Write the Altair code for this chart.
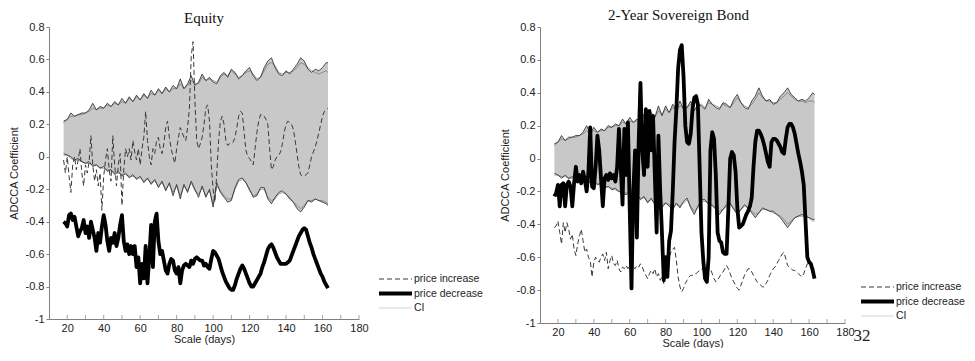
import altair as alt
import pandas as pd

days = list(range(18, 164))
ci_days = list(range(18, 163, 2)) + [163]
x_ticks = list(range(20, 181, 10))
y_ticks = [-1, -0.8, -0.6, -0.4, -0.2, 0, 0.2, 0.4, 0.6, 0.8]
series_names = ["price increase", "price decrease", "CI"]

# ---------------- Equity ----------------
eq_inc = [
    -0.02, -0.10,
    0.00, -0.12, -0.22, -0.05, 0.00, -0.08, -0.02, 0.05, -0.10, -0.18,
    -0.05, -0.10, -0.03, 0.13, -0.05, -0.15, -0.08, -0.18, -0.10, -0.33,
    -0.12, -0.02, 0.05, -0.08, -0.15, 0.13, -0.05, -0.18, -0.05, 0.02,
    -0.30, -0.08, 0.05, 0.00, 0.05, -0.02, 0.10, 0.03, -0.02, 0.05,
    -0.05, 0.05, 0.12, 0.28, 0.10, 0.00, -0.05, 0.05, 0.02, 0.10,
    0.12, 0.05, 0.02, 0.08, 0.18, 0.22, 0.12, 0.05, 0.00, -0.04,
    0.05, 0.12, 0.18, 0.15, 0.12, 0.10, 0.18, 0.30, 0.62, 0.71,
    0.35, 0.10, 0.05, 0.08, 0.12, 0.20, 0.30, 0.32, 0.22, -0.05,
    -0.20, -0.28, -0.10, 0.10, 0.22, 0.25, 0.20, 0.10, 0.07, 0.08,
    0.08, 0.09, 0.12, 0.18, 0.25, 0.28, 0.27, 0.15, 0.04, 0.00,
    -0.01, -0.03, -0.05, 0.05, 0.15, 0.22, 0.26, 0.26, 0.25, 0.23,
    0.20, 0.05, -0.08, -0.06, -0.02, 0.00, 0.01, 0.03, 0.08, 0.15,
    0.20, 0.22, 0.21, 0.20, 0.17, 0.10, 0.02, -0.06, -0.11, -0.12,
    -0.12, -0.11, -0.10, -0.05, 0.00, 0.03, 0.06, 0.10, 0.15, 0.20,
    0.25, 0.28, 0.29, 0.30,
]
eq_dec = [
    -0.40, -0.41,
    -0.43, -0.36, -0.35, -0.39, -0.37, -0.43, -0.49, -0.46, -0.44, -0.39,
    -0.47, -0.43, -0.50, -0.40, -0.45, -0.50, -0.58, -0.47, -0.53, -0.43,
    -0.36, -0.42, -0.52, -0.58, -0.50, -0.53, -0.47, -0.55, -0.50, -0.42,
    -0.36, -0.52, -0.58, -0.54, -0.60, -0.55, -0.60, -0.55, -0.68, -0.62,
    -0.78, -0.66, -0.75, -0.55, -0.78, -0.62, -0.42, -0.68, -0.40, -0.35,
    -0.52, -0.60, -0.58, -0.64, -0.70, -0.72, -0.66, -0.63, -0.64, -0.70,
    -0.72, -0.68, -0.78, -0.70, -0.67, -0.66, -0.67, -0.68, -0.64, -0.66,
    -0.63, -0.62, -0.63, -0.64, -0.64, -0.67, -0.66, -0.68, -0.69, -0.63,
    -0.58, -0.59, -0.61, -0.63, -0.67, -0.71, -0.74, -0.77, -0.79, -0.81,
    -0.82, -0.82, -0.79, -0.75, -0.72, -0.69, -0.67, -0.69, -0.72, -0.75,
    -0.78, -0.80, -0.80, -0.78, -0.76, -0.74, -0.72, -0.68, -0.65, -0.61,
    -0.57, -0.55, -0.54, -0.56, -0.59, -0.62, -0.64, -0.66, -0.66, -0.66,
    -0.66, -0.65, -0.64, -0.61, -0.58, -0.55, -0.52, -0.49, -0.47, -0.45,
    -0.44, -0.45, -0.49, -0.53, -0.56, -0.60, -0.63, -0.66, -0.69, -0.72,
    -0.74, -0.77, -0.79, -0.81,
]
eq_upA = [
    0.22, 0.23, 0.27, 0.25, 0.26, 0.27, 0.27, 0.29, 0.33, 0.29,
    0.31, 0.30, 0.33, 0.31, 0.34, 0.32, 0.36, 0.33, 0.37, 0.34,
    0.38, 0.35, 0.39, 0.36, 0.41, 0.38, 0.42, 0.39, 0.43, 0.40,
    0.44, 0.42, 0.48, 0.42, 0.45, 0.50, 0.44, 0.46, 0.51, 0.47,
    0.49, 0.46, 0.45, 0.50, 0.52, 0.49, 0.54, 0.52, 0.48, 0.50,
    0.53, 0.55, 0.50, 0.47, 0.49, 0.55, 0.59, 0.61, 0.55, 0.51,
    0.50, 0.53, 0.51, 0.54, 0.57, 0.61, 0.59, 0.54, 0.52, 0.54,
    0.53, 0.55, 0.58, 0.58,
]
eq_upB = [
    0.21, 0.23, 0.25, 0.25, 0.26, 0.26, 0.27, 0.28, 0.30, 0.29,
    0.30, 0.30, 0.32, 0.31, 0.33, 0.32, 0.34, 0.33, 0.36, 0.34,
    0.37, 0.35, 0.38, 0.36, 0.39, 0.38, 0.41, 0.39, 0.42, 0.40,
    0.42, 0.42, 0.45, 0.42, 0.44, 0.47, 0.45, 0.45, 0.49, 0.47,
    0.48, 0.47, 0.46, 0.49, 0.51, 0.50, 0.53, 0.51, 0.49, 0.50,
    0.52, 0.53, 0.51, 0.48, 0.49, 0.53, 0.57, 0.58, 0.56, 0.52,
    0.51, 0.52, 0.52, 0.53, 0.55, 0.58, 0.57, 0.55, 0.53, 0.52,
    0.51, 0.52, 0.53, 0.52,
]
eq_loA = [
    0.02, 0.01, 0.00, -0.02, -0.01, -0.03, -0.04, -0.03, -0.06, -0.05,
    -0.07, -0.06, -0.09, -0.08, -0.11, -0.09, -0.12, -0.10, -0.13, -0.11,
    -0.14, -0.12, -0.16, -0.13, -0.17, -0.14, -0.19, -0.15, -0.21, -0.16,
    -0.24, -0.17, -0.26, -0.17, -0.22, -0.15, -0.20, -0.25, -0.18, -0.25,
    -0.20, -0.31, -0.16, -0.22, -0.25, -0.28, -0.27, -0.19, -0.14, -0.13,
    -0.16, -0.20, -0.25, -0.24, -0.19, -0.19, -0.26, -0.29, -0.25, -0.22,
    -0.21, -0.23, -0.26, -0.28, -0.32, -0.34, -0.31, -0.27, -0.28, -0.26,
    -0.27, -0.28, -0.29, -0.30,
]
eq_loB = [
    0.01, 0.01, -0.01, -0.02, -0.02, -0.03, -0.04, -0.04, -0.05, -0.05,
    -0.07, -0.07, -0.08, -0.08, -0.10, -0.10, -0.11, -0.11, -0.12, -0.12,
    -0.13, -0.13, -0.15, -0.14, -0.16, -0.15, -0.18, -0.16, -0.20, -0.17,
    -0.22, -0.18, -0.24, -0.18, -0.21, -0.16, -0.21, -0.23, -0.19, -0.24,
    -0.21, -0.29, -0.18, -0.21, -0.24, -0.26, -0.26, -0.20, -0.15, -0.14,
    -0.16, -0.21, -0.24, -0.23, -0.20, -0.20, -0.25, -0.27, -0.26, -0.23,
    -0.22, -0.23, -0.25, -0.28, -0.30, -0.32, -0.30, -0.27, -0.27, -0.26,
    -0.27, -0.27, -0.28, -0.29,
]

# ---------------- 2-Year Sovereign Bond ----------------
bd_inc = [
    -0.42, -0.41,
    -0.38, -0.45, -0.52, -0.39, -0.45, -0.39, -0.43, -0.49, -0.46, -0.55,
    -0.59, -0.52, -0.47, -0.43, -0.50, -0.57, -0.55, -0.60, -0.62, -0.72,
    -0.63, -0.60, -0.62, -0.63, -0.60, -0.58, -0.62, -0.57, -0.67, -0.62,
    -0.59, -0.64, -0.65, -0.62, -0.67, -0.69, -0.66, -0.67, -0.65, -0.67,
    -0.65, -0.68, -0.66, -0.67, -0.65, -0.66, -0.64, -0.66, -0.69, -0.71,
    -0.73, -0.70, -0.68, -0.70, -0.67, -0.72, -0.70, -0.74, -0.72, -0.76,
    -0.70, -0.66, -0.60, -0.57, -0.55, -0.54, -0.62, -0.72, -0.78, -0.81,
    -0.79, -0.76, -0.74, -0.72, -0.71, -0.71, -0.70, -0.70, -0.69, -0.68,
    -0.68, -0.66, -0.64, -0.65, -0.66, -0.67, -0.70, -0.73, -0.75, -0.74,
    -0.72, -0.70, -0.69, -0.67, -0.65, -0.67, -0.70, -0.73, -0.75, -0.77,
    -0.79, -0.80, -0.77, -0.74, -0.71, -0.69, -0.67, -0.67, -0.69, -0.71,
    -0.73, -0.75, -0.76, -0.77, -0.78, -0.78, -0.76, -0.74, -0.71, -0.69,
    -0.67, -0.66, -0.64, -0.62, -0.60, -0.58, -0.57, -0.61, -0.65, -0.66,
    -0.67, -0.68, -0.68, -0.69, -0.70, -0.71, -0.72, -0.70, -0.67, -0.64,
    -0.65, -0.66, -0.67, -0.67,
]
bd_dec = [
    -0.23, -0.21,
    -0.16, -0.29, -0.16, -0.15, -0.29, -0.16, -0.14, -0.17, -0.29, -0.15,
    -0.05, -0.14, -0.10, -0.15, -0.08, -0.13, -0.20, -0.08, 0.19, -0.17,
    -0.18, -0.05, 0.14, 0.05, -0.12, -0.29, -0.12, -0.10, -0.13, -0.09,
    -0.12, -0.10, -0.14, -0.05, 0.18, -0.05, -0.28, 0.18, -0.10, 0.22,
    -0.30, -0.79, -0.20, 0.05, -0.48, 0.10, 0.46, 0.05, -0.10, 0.30,
    -0.05, 0.29, 0.05, 0.26, -0.10, -0.45, 0.14, -0.20, -0.46, -0.74,
    -0.60, -0.72, -0.50, -0.44, -0.20, 0.10, 0.30, 0.55, 0.66, 0.69,
    0.50, 0.20, 0.10, 0.09, 0.15, 0.30, 0.37, 0.38, 0.33, -0.06,
    -0.45, -0.62, -0.73, -0.75, -0.60, 0.05, 0.16, 0.12, -0.10, -0.45,
    -0.50, -0.51, -0.57, -0.58, -0.58, -0.30, 0.00, 0.04, 0.02, -0.08,
    -0.30, -0.42, -0.41, -0.40, -0.37, -0.34, -0.32, -0.29, -0.24, -0.05,
    0.10, 0.17, 0.17, 0.15, 0.12, 0.08, 0.03, -0.02, -0.05, 0.10,
    0.12, 0.12, 0.11, 0.09, 0.07, 0.04, 0.03, 0.12, 0.19, 0.21,
    0.21, 0.19, 0.15, 0.09, 0.03, -0.02, -0.08, -0.16, -0.38, -0.60,
    -0.63, -0.64, -0.68, -0.73,
]
bd_upA = [
    0.09, 0.10, 0.14, 0.11, 0.13, 0.13, 0.14, 0.14, 0.16, 0.20,
    0.15, 0.19, 0.16, 0.18, 0.17, 0.20, 0.19, 0.21, 0.20, 0.24,
    0.21, 0.25, 0.22, 0.24, 0.22, 0.27, 0.24, 0.28, 0.25, 0.32,
    0.26, 0.32, 0.28, 0.33, 0.29, 0.35, 0.30, 0.31, 0.35, 0.29,
    0.33, 0.32, 0.30, 0.36, 0.33, 0.31, 0.30, 0.34, 0.33, 0.31,
    0.36, 0.39, 0.34, 0.31, 0.30, 0.35, 0.38, 0.43, 0.38, 0.35,
    0.36, 0.33, 0.34, 0.38, 0.40, 0.43, 0.39, 0.37, 0.35, 0.36,
    0.35, 0.37, 0.40, 0.39,
]
bd_upB = [
    0.08, 0.10, 0.12, 0.11, 0.12, 0.13, 0.13, 0.14, 0.15, 0.17,
    0.15, 0.17, 0.16, 0.17, 0.17, 0.19, 0.19, 0.20, 0.20, 0.22,
    0.21, 0.23, 0.22, 0.23, 0.22, 0.25, 0.24, 0.26, 0.25, 0.29,
    0.27, 0.30, 0.28, 0.31, 0.29, 0.32, 0.31, 0.31, 0.33, 0.30,
    0.32, 0.33, 0.31, 0.34, 0.33, 0.32, 0.31, 0.33, 0.32, 0.31,
    0.34, 0.37, 0.34, 0.32, 0.31, 0.33, 0.36, 0.40, 0.37, 0.35,
    0.35, 0.34, 0.34, 0.36, 0.38, 0.40, 0.38, 0.36, 0.35, 0.35,
    0.34, 0.35, 0.35, 0.34,
]
bd_loA = [
    -0.09, -0.10, -0.12, -0.10, -0.12, -0.11, -0.12, -0.11, -0.14, -0.12,
    -0.15, -0.14, -0.16, -0.15, -0.18, -0.17, -0.19, -0.18, -0.20, -0.21,
    -0.22, -0.20, -0.24, -0.22, -0.25, -0.23, -0.27, -0.24, -0.28, -0.25,
    -0.30, -0.27, -0.29, -0.31, -0.27, -0.30, -0.26, -0.24, -0.30, -0.34,
    -0.29, -0.25, -0.25, -0.28, -0.28, -0.31, -0.34, -0.31, -0.28, -0.27,
    -0.31, -0.34, -0.31, -0.28, -0.30, -0.33, -0.36, -0.33, -0.30, -0.31,
    -0.32, -0.32, -0.34, -0.36, -0.39, -0.42, -0.39, -0.36, -0.35, -0.34,
    -0.35, -0.36, -0.37, -0.37,
]
bd_loB = [
    -0.10, -0.10, -0.11, -0.11, -0.12, -0.12, -0.12, -0.12, -0.13, -0.13,
    -0.14, -0.14, -0.15, -0.16, -0.17, -0.17, -0.18, -0.19, -0.20, -0.20,
    -0.21, -0.21, -0.23, -0.22, -0.24, -0.24, -0.26, -0.25, -0.27, -0.26,
    -0.28, -0.27, -0.28, -0.30, -0.28, -0.29, -0.27, -0.25, -0.29, -0.32,
    -0.30, -0.26, -0.26, -0.27, -0.29, -0.30, -0.32, -0.31, -0.29, -0.28,
    -0.30, -0.33, -0.31, -0.29, -0.30, -0.32, -0.34, -0.33, -0.31, -0.31,
    -0.32, -0.33, -0.34, -0.35, -0.37, -0.40, -0.38, -0.36, -0.35, -0.35,
    -0.35, -0.36, -0.38, -0.38,
]

FONT = "Liberation Sans, Arial, sans-serif"
SERIF = "Liberation Serif, Times New Roman, serif"


def panel(title, inc, dec, upA, upB, loA, loB, w, h, lx, ly, tdx, toff, page_no=None):
    assert len(inc) == len(days) and len(dec) == len(days)
    for s in (upA, upB, loA, loB):
        assert len(s) == len(ci_days)
    lines = pd.DataFrame({
        "day": days + days,
        "value": inc + dec,
        "series": [series_names[0]] * len(days) + [series_names[1]] * len(days),
    })
    ci = pd.DataFrame({"day": ci_days, "upA": upA, "upB": upB, "loA": loA, "loB": loB})
    ticks = pd.DataFrame({"t": x_ticks, "b": [-1] * len(x_ticks)})

    xs = alt.Scale(domain=[10, 180], nice=False, zero=False)
    ys = alt.Scale(domain=[-1, 0.8], nice=False, zero=False)
    xax = alt.Axis(values=x_ticks, ticks=False, labelPadding=3, titlePadding=0,
                   labelFlush=False,
                   labelExpr="datum.value % 20 == 0 ? datum.label : ''")
    yax = alt.Axis(values=y_ticks, tickSize=3, labelPadding=2, titlePadding=6,
                   labelFlush=False, labelExpr="'' + datum.value")

    def X(f):
        return alt.X(f, type="quantitative", scale=xs, axis=xax, title="Scale (days)")

    def Y(f):
        return alt.Y(f, type="quantitative", scale=ys, axis=yax, title="ADCCA Coefficient")

    base = alt.Chart(ci)
    area = base.mark_area(color="#c8c8c8").encode(x=X("day"), y=Y("upA"), y2="loA:Q")
    upb = base.mark_line(color="#7a7a7a", strokeWidth=0.8).encode(x=X("day"), y=Y("upB"))
    lob = base.mark_line(color="#7a7a7a", strokeWidth=0.8).encode(x=X("day"), y=Y("loB"))
    upa = base.mark_line(color="#262626", strokeWidth=0.8).encode(x=X("day"), y=Y("upA"))
    loa = base.mark_line(color="#262626", strokeWidth=0.8).encode(x=X("day"), y=Y("loA"))

    leg = alt.Legend(title=None, orient="none", legendX=lx, legendY=ly,
                     symbolType="M-5,0H1", symbolSize=121, padding=0,
                     labelFont=FONT, labelFontSize=10.5, labelColor="#222",
                     labelOffset=0, rowPadding=0)
    data_lines = alt.Chart(lines).mark_line(strokeJoin="round").encode(
        x=X("day"), y=Y("value"),
        color=alt.Color("series:N", scale=alt.Scale(domain=series_names,
                        range=["#3a3a3a", "#000000", "#d4d4d4"]), legend=leg),
        strokeDash=alt.StrokeDash("series:N", scale=alt.Scale(domain=series_names,
                                  range=[[5, 3], [1, 0], [1, 0]]), legend=leg),
        strokeWidth=alt.StrokeWidth("series:N", scale=alt.Scale(type="ordinal",
                                    domain=series_names, range=[1, 3.8, 1]), legend=leg),
        order=alt.Order("series:N", sort="descending"),
    )
    tick_marks = alt.Chart(ticks).mark_tick(orient="vertical", size=4, thickness=1,
                                            color="#808080", yOffset=-2).encode(
        x=X("t"), y=Y("b"))
    layers = [area, upb, lob, upa, loa, data_lines, tick_marks]
    if page_no is not None:
        pg = alt.Chart(pd.DataFrame({"t": [page_no]})).mark_text(
            font=SERIF, fontSize=17, align="center", baseline="alphabetic", color="#222"
        ).encode(text="t:N", x=alt.value(w + 17), y=alt.value(h + 18))
        layers.append(pg)
    return alt.layer(*layers).properties(
        width=w, height=h,
        title=alt.TitleParams(title, font=SERIF, fontSize=15, fontWeight="normal",
                              color="#111", anchor="middle", offset=toff, dx=tdx),
    )


left = panel("Equity", eq_inc, eq_dec, eq_upA, eq_upB, eq_loA, eq_loB,
             310, 292, 350, 246, 0, -5)
right = panel("2-Year Sovereign Bond", bd_inc, bd_dec, bd_upA, bd_upB, bd_loA, bd_loB,
              305, 296, 341, 254, -14, -2, page_no="32")

chart = alt.hconcat(left, right, spacing=16).resolve_scale(
    x="independent", y="independent", color="independent",
    strokeDash="independent", strokeWidth="independent",
).resolve_legend(
    color="independent", strokeDash="independent", strokeWidth="independent",
).configure_view(stroke=None).configure_axis(
    labelFont=FONT, titleFont=FONT, labelFontSize=11, titleFontSize=11,
    titleFontWeight="normal", domainColor="#808080", tickColor="#808080",
    labelColor="#222", titleColor="#222", grid=False,
).properties(padding=0)

chart.save("out.html", embed_options={"renderer": "svg", "actions": False})
